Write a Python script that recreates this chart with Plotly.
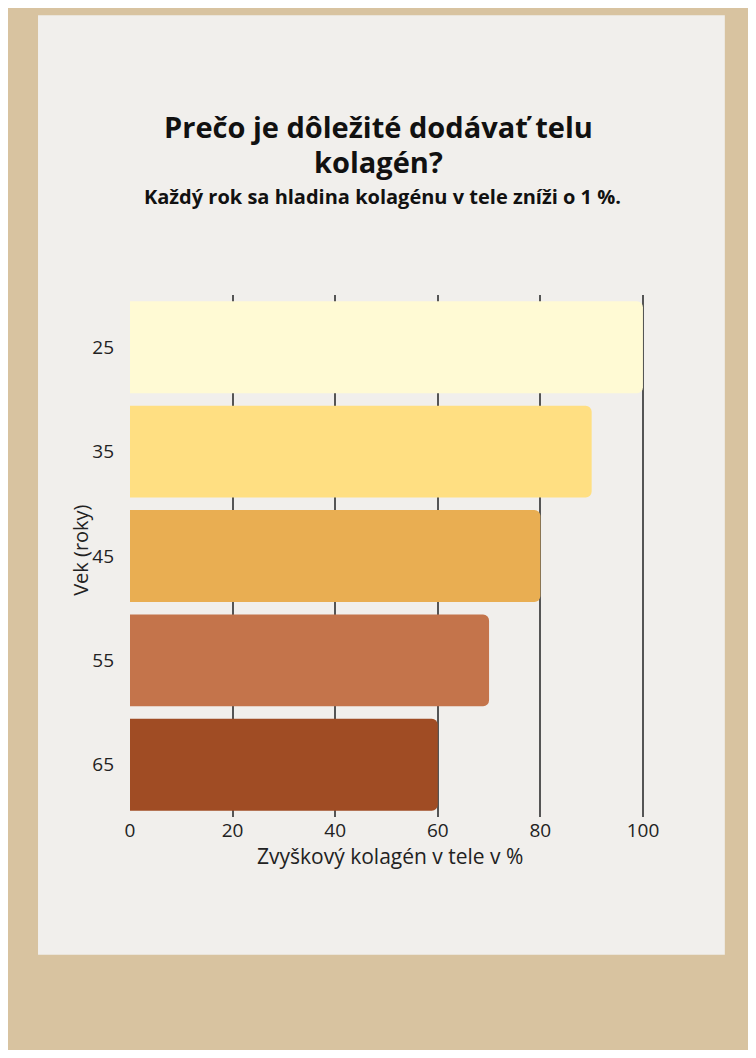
import plotly.graph_objects as go

ages = ["25", "35", "45", "55", "65"]
values = [100, 90, 80, 70, 60]
colors = ["#fffad4", "#ffdf82", "#e9ae52", "#c4744b", "#a04c24"]
x_ticks = [0, 20, 40, 60, 80, 100]

fig = go.Figure(go.Bar(
    x=values, y=ages, orientation="h",
    marker=dict(color=colors, cornerradius=6, line=dict(width=0)),
    hoverinfo="skip"))

fig.update_layout(
    width=740, height=1042,
    margin=dict(l=122, r=103, t=287, b=233),
    paper_bgcolor="#d8c3a0", plot_bgcolor="rgba(0,0,0,0)",
    bargap=0.12, showlegend=False,
    font=dict(family="Open Sans", color="#222"),
    shapes=[dict(type="rect", xref="paper", yref="paper", layer="below",
                 x0=-0.1786, x1=1.155, y0=-0.264, y1=1.536,
                 fillcolor="#f1efec", line=dict(width=0))],
    annotations=[
        dict(text="<b>Prečo je dôležité dodávať telu</b>", xref="paper", yref="paper",
             x=0.4816, y=1.364, showarrow=False, font=dict(size=29, color="#111")),
        dict(text="<b>kolagén?</b>", xref="paper", yref="paper",
             x=0.4816, y=1.297, showarrow=False, font=dict(size=29, color="#111")),
        dict(text="<b>Každý rok sa hladina kolagénu v tele zníži o 1 %.</b>", xref="paper", yref="paper",
             x=0.491, y=1.218, showarrow=False, font=dict(size=20, color="#111")),
        dict(text="Vek (roky)", xref="paper", yref="paper", x=-0.126, y=0.511, textangle=-90,
             showarrow=False, font=dict(size=20, color="#222")),
        dict(text="Zvyškový kolagén v tele v %", xref="paper", yref="paper", x=0.505, y=-0.105,
             showarrow=False, font=dict(size=21, color="#222")),
    ],
)
fig.update_xaxes(range=[0, 100.4], tickvals=x_ticks, showgrid=True, gridcolor="#555", gridwidth=2,
                 zeroline=False, showline=False, tickfont=dict(size=19), ticks="")
fig.update_yaxes(categoryorder="array", categoryarray=ages[::-1], showgrid=False, zeroline=False,
                 tickfont=dict(size=19), ticks="", ticklabelstandoff=15)

fig.write_html("out.html")
